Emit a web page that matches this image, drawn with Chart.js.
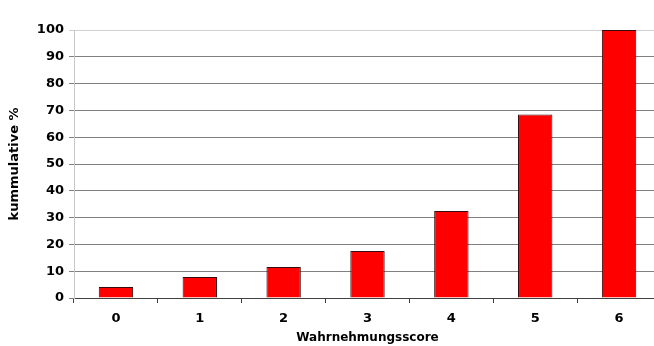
<!DOCTYPE html>
<html>
<head>
<meta charset="utf-8">
<script src="https://cdn.jsdelivr.net/npm/chart.js@4"></script>
<style>
  html, body { margin: 0; padding: 0; background: #fff; overflow: hidden; }
  #wrap { width: 662px; height: 346px; }
</style>
</head>
<body>
<div id="wrap"><canvas id="myChart"></canvas></div>
<script>
const scores = ["0", "1", "2", "3", "4", "5", "6"];
const kumProzent = [4.1, 7.8, 11.6, 17.5, 32.5, 68.5, 100];
const yTicks = [0, 10, 20, 30, 40, 50, 60, 70, 80, 90, 100];

const fontBold = { family: "DejaVu Sans", size: 13, weight: "bold" };

new Chart(document.getElementById("myChart"), {
  type: "bar",
  data: {
    labels: scores,
    datasets: [
      {
        label: "kummulative %",
        data: kumProzent,
        backgroundColor: "#FF0000",
        borderColor: "#3a0a0a",
        borderWidth: 1,
        categoryPercentage: 1,
        barPercentage: 0.41,
      },
    ],
  },
  options: {
    responsive: true,
    maintainAspectRatio: false,
    animation: false,
    layout: { padding: { top: 30, right: 1, left: 0, bottom: 0 } },
    plugins: {
      legend: { display: false },
      tooltip: { enabled: false },
    },
    scales: {
      x: {
        grid: {
          drawOnChartArea: false,
          drawTicks: true,
          tickLength: 5,
          color: "#404040",
        },
        border: { color: "#404040", width: 1 },
        ticks: { color: "#000", font: fontBold, padding: 8 },
        title: {
          display: true,
          text: "Wahrnehmungsscore",
          color: "#000",
          font: { family: "DejaVu Sans", size: 12, weight: "bold" },
          padding: { top: 0, bottom: 1 },
        },
        afterFit: function (scale) {
          scale.height = 48;
        },
      },
      y: {
        min: 0,
        max: 100,
        afterBuildTicks: function (scale) {
          scale.ticks = yTicks.map(function (v) { return { value: v }; });
        },
        grid: {
          tickLength: 5,
          color: function (ctx) {
            return ctx.tick && ctx.tick.value === 100 ? "#d0d0d0" : "#808080";
          },
        },
        border: { color: "#c8c8c8", width: 1 },
        ticks: { color: "#000", font: fontBold, padding: 5 },
        title: {
          display: true,
          text: "kummulative %",
          color: "#000",
          font: fontBold,
          padding: { top: 7, bottom: 0 },
        },
        afterFit: function (scale) {
          scale.width = 74;
        },
      },
    },
  },
});
</script>
</body>
</html>
